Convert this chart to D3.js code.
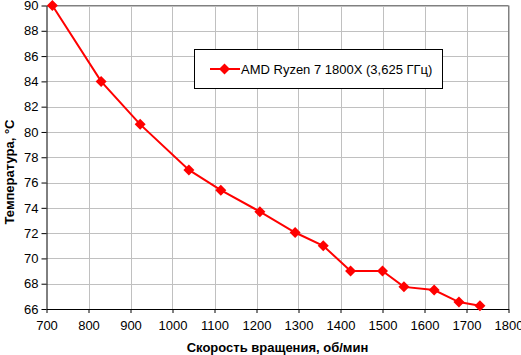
<!DOCTYPE html>
<html><head><meta charset="utf-8">
<script src="https://cdn.jsdelivr.net/npm/d3@7"></script>
<style>body{margin:0;background:#fff}svg{display:block}text{font-family:"Liberation Sans",Arial,sans-serif}</style>
</head><body><svg id="c" width="521" height="355"></svg>
<script>
const rpm = [714, 830, 923, 1039, 1115, 1208, 1292, 1359, 1424, 1500, 1551, 1623, 1682, 1732];
const temp = [90, 84, 80.6, 77.0, 75.4, 73.7, 72.05, 71.0, 69.0, 69.0, 67.75, 67.5, 66.55, 66.25];
const xTicks = [700, 800, 900, 1000, 1100, 1200, 1300, 1400, 1500, 1600, 1700, 1800];
const yTicks = [66, 68, 70, 72, 74, 76, 78, 80, 82, 84, 86, 88, 90];
const seriesName = "AMD Ryzen 7 1800X (3,625 ГГц)";
const xTitle = "Скорость вращения, об/мин";
const yTitle = "Температура, °C";

const svg = d3.select("#c");
const L = 46.5, R = 508.5, T = 5.5, B = 309;
const x = d3.scaleLinear().domain([700, 1800]).range([L, R]);
const y = d3.scaleLinear().domain([66, 90]).range([B, T]);

// grid
svg.append("g").selectAll("line.v").data(xTicks.slice(1)).join("line")
  .attr("x1", d => Math.round(x(d)) + 0.5).attr("x2", d => Math.round(x(d)) + 0.5)
  .attr("y1", T).attr("y2", B).attr("stroke", "#c0c0c0");
svg.append("g").selectAll("line.h").data(yTicks.slice(1)).join("line")
  .attr("y1", d => Math.round(y(d)) + 0.5).attr("y2", d => Math.round(y(d)) + 0.5)
  .attr("x1", L).attr("x2", R).attr("stroke", "#c0c0c0");
// plot border top/right
svg.append("path").attr("d", `M${L},${T}H${R}V${B}`).attr("fill", "none").attr("stroke", "#808080");

// axes
const xa = svg.append("g").attr("transform", `translate(0,${B})`)
  .call(d3.axisBottom(x).tickValues(xTicks).tickSize(4).tickSizeOuter(0).tickPadding(8).tickFormat(d3.format("d")));
const ya = svg.append("g").attr("transform", `translate(${L},0)`)
  .call(d3.axisLeft(y).tickValues(yTicks).tickSize(5).tickSizeOuter(0).tickPadding(3).tickFormat(d3.format("d")));
[xa, ya].forEach(a => {
  a.selectAll("path,line").attr("stroke", "#000");
  a.selectAll("text").attr("font-size", 13).attr("fill", "#000").attr("font-family", '"Liberation Sans",Arial,sans-serif');
});

// line
const pts = rpm.map((r, i) => [r, temp[i]]);
svg.append("path").datum(pts)
  .attr("d", d3.line().x(d => x(d[0])).y(d => y(d[1])))
  .attr("fill", "none").attr("stroke", "#ff0000").attr("stroke-width", 2);
const diamond = s => `M0,${-s}L${s},0L0,${s}L${-s},0Z`;
svg.append("g").selectAll("path").data(pts).join("path")
  .attr("transform", d => `translate(${x(d[0])},${y(d[1])})`)
  .attr("d", diamond(5.5)).attr("fill", "#ff0000");

// legend
const lg = svg.append("g");
lg.append("rect").attr("x", 194.5).attr("y", 49.5).attr("width", 248).attr("height", 39)
  .attr("fill", "#fff").attr("stroke", "#000");
lg.append("line").attr("x1", 210).attr("x2", 240).attr("y1", 69).attr("y2", 69)
  .attr("stroke", "#ff0000").attr("stroke-width", 2);
lg.append("path").attr("transform", "translate(224.5,69)").attr("d", diamond(5.5)).attr("fill", "#ff0000");
lg.append("text").attr("x", 241).attr("y", 73.5).attr("font-size", 13).text(seriesName);

// titles
svg.append("text").attr("x", 277.5).attr("y", 352).attr("text-anchor", "middle")
  .attr("font-size", 13).attr("font-weight", "bold").text(xTitle);
svg.append("text").attr("transform", "translate(14,172) rotate(-90)").attr("text-anchor", "middle")
  .attr("font-size", 13).attr("font-weight", "bold").text(yTitle);
</script></body></html>
